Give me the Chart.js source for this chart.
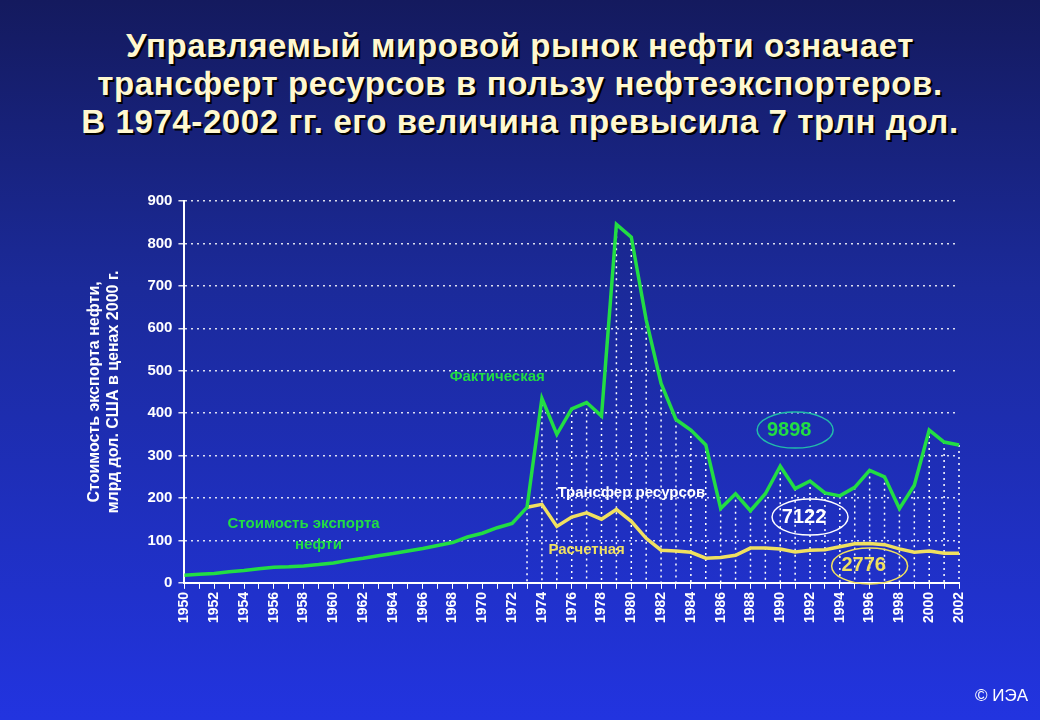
<!DOCTYPE html>
<html><head><meta charset="utf-8">
<script src="https://cdn.jsdelivr.net/npm/chart.js@4"></script>
<style>
html,body{margin:0;padding:0;}
body{width:1040px;height:720px;background:linear-gradient(#141a5e 0%,#1b2a9a 40%,#2234e0 100%);position:relative;overflow:hidden;font-family:"Liberation Sans",Arial,sans-serif;}
#t{position:absolute;top:27px;left:0;width:1040px;text-align:center;color:#fff8d0;font-weight:bold;font-size:33px;line-height:38px;letter-spacing:0.6px;text-shadow:2px 2px 0 #000;}
#c{position:absolute;left:0;top:0;}
#cp{position:absolute;right:12px;bottom:14px;color:#fff;font-size:17px;}
</style></head><body>
<div id="t">Управляемый мировой рынок нефти означает<br>трансферт ресурсов в пользу нефтеэкспортеров.<br>В 1974-2002 гг. его величина превысила 7 трлн дол.</div>
<canvas id="c" width="1040" height="720"></canvas>
<div id="cp">© ИЭА</div>
<script>
const years=[];for(let y=1950;y<=2002;y++)years.push(String(y));
const actual=[18,20,22,26,29,33,37,38,40,43,47,53,58,64,69,75,81,88,95,108,117,130,140,178,435,350,410,425,393,845,815,620,470,385,360,325,175,210,170,210,275,222,240,212,205,225,265,250,175,230,360,332,325];
const calculated=[null,null,null,null,null,null,null,null,null,null,null,null,null,null,null,null,null,null,null,null,null,null,null,178,185,133,155,165,150,173,145,105,77,75,72,58,60,65,82,82,80,73,77,78,85,92,93,90,80,72,75,70,70];
const yTicks=[0,100,200,300,400,500,600,700,800,900];
const notes=[
 {text:'Фактическая',x:'1971',y:485,color:'#22dd44'},
 {text:'Стоимость экспорта',x:'1958',y:140,color:'#22dd44'},
 {text:'нефти',x:'1959',y:90,color:'#22dd44'},
 {text:'Трансфер ресурсов',x:'1980',y:212,color:'#ffffff'},
 {text:'Расчетная',x:'1977',y:77,color:'#f0e060'}
];
const ovals=[
 {text:'9898',x:'1991',y:360,color:'#22dd44',stroke:'#22bbaa'},
 {text:'7122',x:'1992',y:155,color:'#ffffff',stroke:'#ffffff'},
 {text:'2776',x:'1996',y:40,color:'#f0e060',stroke:'#f0e060'}
];
const plug={id:'p',
 beforeDatasetsDraw(ch){const c=ch.ctx,x=ch.scales.x,y=ch.scales.y;c.save();
  c.strokeStyle='#ffffff';c.lineWidth=1.5;c.setLineDash([2,4]);
  for(let i=23;i<years.length;i++){const px=x.getPixelForValue(i);c.beginPath();c.moveTo(px,y.getPixelForValue(actual[i]));c.lineTo(px,y.getPixelForValue(0));c.stroke();}
  c.restore();},
 afterDatasetsDraw(ch){const c=ch.ctx,x=ch.scales.x,y=ch.scales.y;c.save();
  c.textAlign='center';c.textBaseline='middle';
  notes.forEach(n=>{c.font='bold 15px "Liberation Sans",Arial';c.fillStyle=n.color;c.fillText(n.text,x.getPixelForValue(years.indexOf(n.x)),y.getPixelForValue(n.y));});
  ovals.forEach(o=>{const px=x.getPixelForValue(years.indexOf(o.x)),py=y.getPixelForValue(o.y);
   c.strokeStyle=o.stroke;c.lineWidth=1.5;c.beginPath();c.ellipse(px,py,38,18,0,0,Math.PI*2);c.stroke();
   c.font='bold 20px "Liberation Sans",Arial';c.fillStyle=o.color;c.fillText(o.text,px-6,py);});
  c.restore();}
};
new Chart(document.getElementById('c'),{type:'line',
 data:{labels:years,datasets:[
  {data:actual,borderColor:'#22dd44',borderWidth:3.5,pointRadius:0,tension:0},
  {data:calculated,borderColor:'#f0e060',borderWidth:3.5,pointRadius:0,tension:0}]},
 options:{responsive:false,animation:false,
  layout:{padding:{left:81,top:201,right:81,bottom:94}},
  plugins:{legend:{display:false},tooltip:{enabled:false}},
  scales:{
   x:{offset:false,grid:{display:true,drawOnChartArea:false,color:'#fff',tickLength:6},border:{color:'#fff',width:2},
      ticks:{color:'#fff',font:{weight:'bold',size:14},maxRotation:90,minRotation:90,autoSkip:false,
       callback:(v,i)=>i%2===0?years[i]:''}},
   y:{min:0,max:900,afterBuildTicks:a=>{a.ticks=yTicks.map(v=>({value:v}));},
      grid:{color:'rgba(255,255,255,0.85)',lineWidth:1.5,tickLength:6},
      border:{color:'#fff',width:2,dash:[2,4]},
      ticks:{color:'#fff',font:{weight:'bold',size:15},padding:6},
      title:{display:true,text:['Стоимость экспорта нефти,','млрд дол. США в ценах 2000 г.'],color:'#fff',font:{weight:'bold',size:16},padding:{bottom:18}}}
  }},
 plugins:[plug]});
</script></body></html>
